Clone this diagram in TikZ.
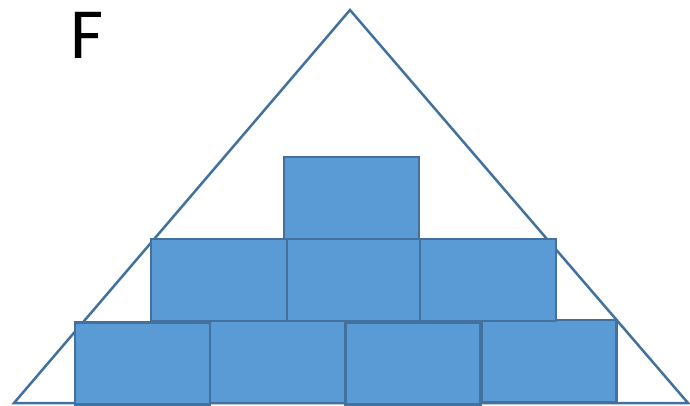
\documentclass[tikz,border=0pt]{standalone}
\usepackage{fontspec}
\setmainfont{Carlito}
\usepackage{tikz}
\usetikzlibrary{positioning}
\definecolor{brickfill}{HTML}{5B9BD5}
\definecolor{brickline}{HTML}{41719C}

\begin{document}
\begin{tikzpicture}[
  x=1pt, y=-1pt,
  brick/.style={draw=brickline, line width=2.9pt, fill=brickfill, minimum width=135pt, minimum height=82pt, inner sep=0pt, outer sep=0pt},
  tri/.style={draw=brickline, line width=2.5pt, line join=miter}
]
  \useasboundingbox (0,0) rectangle (690,406);
  % triangle corners
  \coordinate (apex) at (350,10);
  \coordinate (left) at (14,403);
  \coordinate (right) at (688,403);
  \draw[tri] (left) -- (apex) -- (right) -- cycle;

  % bottom row
  \node[brick] (b1) at (142.5,363.5) {};
  \node[brick] (b2) at (277.5,362) {};
  \node[brick] (b3) at (413,363.5) {};
  \node[brick] (b4) at (549,361) {};
  % middle row
  \node[brick, minimum width=136pt] (m1) at (219,280) {};
  \node[brick, minimum width=133pt] (m2) at (353.5,280) {};
  \node[brick, minimum width=136pt] (m3) at (488,280) {};
  % top
  \node[brick] (t1) at (351.5,198) {};

  \node[font=\fontsize{72}{72}\selectfont, inner sep=0pt] (label) at (87,35) {F};
\end{tikzpicture}
\end{document}
